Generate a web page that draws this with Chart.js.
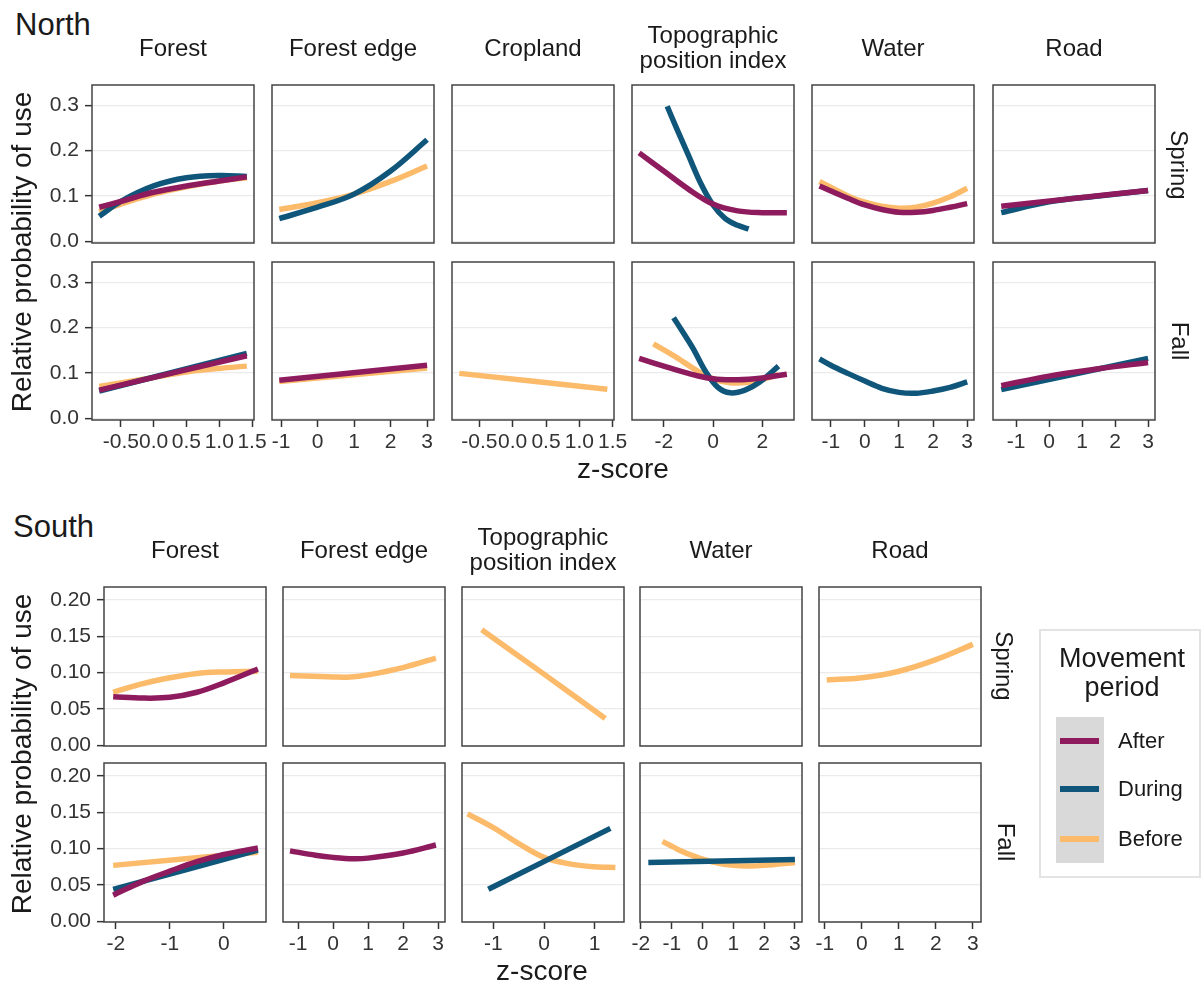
<!DOCTYPE html>
<html>
<head>
<meta charset="utf-8">
<script src="https://cdn.jsdelivr.net/npm/chart.js@4"></script>
<style>
  body { margin: 0; background: #fff; font-family: "Liberation Sans", Arial, sans-serif; color: #1a1a1a; }
  #page { position: relative; width: 1204px; height: 986px; overflow: hidden; background: #fff; }
  #page canvas { position: absolute; }
  .txt { position: absolute; white-space: nowrap; }
  .strip { position: absolute; display: flex; align-items: center; justify-content: center; text-align: center; white-space: pre-line; font-size: 24px; line-height: 25px; }
</style>
</head>
<body>
<div id="page"></div>
<script>
// periods (legend order) and colours
const periods = ["After", "During", "Before"];
const periodColors = ["#8e1b5d", "#0f567a", "#fbbb6a"];

// y ticks
const northYTicks = [0, 0.1, 0.2, 0.3];
const northYLabels = ["0.0", "0.1", "0.2", "0.3"];
const southYTicks = [0, 0.05, 0.1, 0.15, 0.2];
const southYLabels = ["0.00", "0.05", "0.10", "0.15", "0.20"];

// x ticks
const ticksHalf = [-0.5, 0, 0.5, 1, 1.5];
const labelsHalf = ["-0.5", "0.0", "0.5", "1.0", "1.5"];
const ticksM1To3 = [-1, 0, 1, 2, 3];
const ticksTpiNorth = [-2, 0, 2];
const ticksForestSouth = [-2, -1, 0];
const ticksTpiSouth = [-1, 0, 1];
const ticksWaterSouth = [-2, -1, 0, 1, 2, 3];

// facet titles
const northFacets = ["Forest", "Forest edge", "Cropland", "Topographic\nposition index", "Water", "Road"];
const southFacets = ["Forest", "Forest edge", "Topographic\nposition index", "Water", "Road"];
const seasons = ["Spring", "Fall"];

// ---- North, Spring  [z-score, relative probability]
const nSprForestAfter = [[-0.83, 0.075], [-0.5, 0.088], [0, 0.108], [0.5, 0.122], [1, 0.133], [1.42, 0.142]];
const nSprForestDuring = [[-0.83, 0.055], [-0.5, 0.088], [0, 0.122], [0.5, 0.14], [1, 0.145], [1.42, 0.143]];
const nSprForestBefore = [[-0.83, 0.065], [-0.5, 0.082], [0, 0.104], [0.5, 0.12], [1, 0.133], [1.42, 0.14]];
const nSprEdgeDuring = [[-1.05, 0.05], [0, 0.075], [1, 0.104], [2, 0.155], [3, 0.224]];
const nSprEdgeBefore = [[-1.05, 0.07], [0, 0.085], [1, 0.104], [2, 0.132], [3, 0.166]];
const nSprTpiAfter = [[-3, 0.195], [-2, 0.155], [-1, 0.115], [0, 0.082], [1, 0.067], [2, 0.063], [3, 0.063]];
const nSprTpiDuring = [[-1.86, 0.298], [-1.5, 0.252], [-1, 0.19], [-0.5, 0.128], [0, 0.08], [0.5, 0.05], [1, 0.035], [1.45, 0.027]];
const nSprWaterAfter = [[-1.33, 0.122], [-0.5, 0.095], [0, 0.08], [0.5, 0.07], [1, 0.064], [1.5, 0.064], [2, 0.068], [2.5, 0.075], [3, 0.083]];
const nSprWaterBefore = [[-1.33, 0.132], [-0.5, 0.1], [0, 0.086], [0.5, 0.077], [1, 0.073], [1.5, 0.075], [2, 0.084], [2.5, 0.098], [3, 0.117]];
const nSprRoadAfter = [[-1.45, 0.077], [0.8, 0.095], [3, 0.112]];
const nSprRoadDuring = [[-1.45, 0.063], [0, 0.087], [1.5, 0.1], [3, 0.112]];

// ---- North, Fall
const nFallForestAfter = [[-0.83, 0.062], [1.42, 0.138]];
const nFallForestDuring = [[-0.83, 0.06], [1.42, 0.143]];
const nFallForestBefore = [[-0.83, 0.07], [0, 0.09], [0.5, 0.102], [1, 0.11], [1.42, 0.115]];
const nFallEdgeAfter = [[-1.05, 0.084], [3, 0.117]];
const nFallEdgeBefore = [[-1.05, 0.081], [3, 0.111]];
const nFallCropBefore = [[-0.8, 0.099], [1.42, 0.064]];
const nFallTpiAfter = [[-3, 0.132], [-2, 0.115], [-1, 0.099], [0, 0.087], [1, 0.085], [2, 0.089], [3, 0.097]];
const nFallTpiDuring = [[-1.6, 0.222], [-1.2, 0.188], [-0.8, 0.153], [-0.3, 0.103], [0.2, 0.068], [0.7, 0.056], [1.3, 0.062], [1.9, 0.08], [2.66, 0.115]];
const nFallTpiBefore = [[-2.42, 0.164], [-1.6, 0.138], [-0.8, 0.11], [-0.27, 0.093], [0.3, 0.082], [0.8, 0.078], [1.5, 0.08], [2.1, 0.087], [2.66, 0.096]];
const nFallWaterDuring = [[-1.33, 0.131], [-1, 0.117], [-0.5, 0.099], [0, 0.082], [0.5, 0.066], [1, 0.057], [1.5, 0.055], [2, 0.06], [2.5, 0.068], [3, 0.08]];
const nFallRoadAfter = [[-1.45, 0.072], [0, 0.093], [1.5, 0.109], [3, 0.123]];
const nFallRoadDuring = [[-1.45, 0.063], [3, 0.132]];

// ---- South, Spring
const sSprForestAfter = [[-2.05, 0.067], [-1.5, 0.065], [-1, 0.066], [-0.5, 0.073], [0, 0.086], [0.63, 0.105]];
const sSprForestBefore = [[-2.05, 0.073], [-1.5, 0.085], [-1, 0.093], [-0.5, 0.099], [0, 0.101], [0.63, 0.102]];
const sSprEdgeBefore = [[-1.23, 0.096], [0, 0.094], [0.5, 0.094], [1, 0.097], [2, 0.107], [2.94, 0.12]];
const sSprTpiBefore = [[-1.23, 0.159], [0, 0.098], [1.21, 0.037]];
const sSprRoadBefore = [[-0.95, 0.09], [0, 0.093], [1, 0.102], [2, 0.118], [3, 0.139]];

// ---- South, Fall
const sFallForestAfter = [[-2.05, 0.036], [-1.5, 0.055], [-1, 0.069], [-0.5, 0.082], [0, 0.092], [0.63, 0.101]];
const sFallForestDuring = [[-2.05, 0.044], [0.63, 0.098]];
const sFallForestBefore = [[-2.05, 0.077], [0.63, 0.095]];
const sFallEdgeAfter = [[-1.23, 0.097], [-0.5, 0.091], [0, 0.088], [0.6, 0.086], [1, 0.087], [2, 0.094], [2.94, 0.105]];
const sFallTpiDuring = [[-1.1, 0.044], [1.31, 0.128]];
const sFallTpiBefore = [[-1.51, 0.148], [-1, 0.129], [-0.5, 0.107], [0, 0.088], [0.5, 0.079], [1, 0.075], [1.41, 0.074]];
const sFallWaterDuring = [[-1.76, 0.081], [3, 0.085]];
const sFallWaterBefore = [[-1.3, 0.11], [-0.8, 0.099], [-0.3, 0.09], [0.3, 0.082], [1, 0.077], [1.5, 0.076], [2, 0.077], [3, 0.081]];

const page = document.getElementById("page");
Chart.defaults.font.family = '"Liberation Sans", Arial, sans-serif';

// extra transparent room round each canvas so edge tick labels are not cut
const MARGIN = 18;

const panelBox = {
  id: "panelBox",
  afterDraw(chart) {
    const { ctx, chartArea: a } = chart;
    ctx.save();
    ctx.strokeStyle = "#444";
    ctx.lineWidth = 1.5;
    ctx.strokeRect(a.left, a.top, a.right - a.left, a.bottom - a.top);
    ctx.restore();
  },
};

const northBlock = {
  lefts: [92, 272, 452, 632, 812, 993],
  width: 162,
  rows: [{ top: 85, height: 158 }, { top: 262, height: 158 }],
  yMin: -0.004, yMax: 0.345, yTicks: northYTicks, yLabels: northYLabels, yPad: 80,
  xAxes: [
    { min: -0.94, max: 1.53, ticks: ticksHalf, labels: labelsHalf },
    { min: -1.25, max: 3.19, ticks: ticksM1To3 },
    { min: -0.91, max: 1.52, ticks: ticksHalf, labels: labelsHalf },
    { min: -3.29, max: 3.29, ticks: ticksTpiNorth },
    { min: -1.55, max: 3.2, ticks: ticksM1To3 },
    { min: -1.7, max: 3.21, ticks: ticksM1To3 },
  ],
  series: [
    [
      [nSprForestAfter, nSprForestDuring, nSprForestBefore],
      [null, nSprEdgeDuring, nSprEdgeBefore],
      [null, null, null],
      [nSprTpiAfter, nSprTpiDuring, null],
      [nSprWaterAfter, null, nSprWaterBefore],
      [nSprRoadAfter, nSprRoadDuring, null],
    ],
    [
      [nFallForestAfter, nFallForestDuring, nFallForestBefore],
      [nFallEdgeAfter, null, nFallEdgeBefore],
      [null, null, nFallCropBefore],
      [nFallTpiAfter, nFallTpiDuring, nFallTpiBefore],
      [null, nFallWaterDuring, null],
      [nFallRoadAfter, nFallRoadDuring, null],
    ],
  ],
};

const southBlock = {
  lefts: [104, 283, 462, 640, 819],
  width: 162,
  rows: [{ top: 587, height: 159 }, { top: 763, height: 159 }],
  yMin: -0.001, yMax: 0.218, yTicks: southYTicks, yLabels: southYLabels, yPad: 92,
  xAxes: [
    { min: -2.22, max: 0.78, ticks: ticksForestSouth },
    { min: -1.43, max: 3.2, ticks: ticksM1To3 },
    { min: -1.62, max: 1.58, ticks: ticksTpiSouth },
    { min: -2.03, max: 3.23, ticks: ticksWaterSouth },
    { min: -1.16, max: 3.22, ticks: ticksM1To3 },
  ],
  series: [
    [
      [sSprForestAfter, null, sSprForestBefore],
      [null, null, sSprEdgeBefore],
      [null, null, sSprTpiBefore],
      [null, null, null],
      [null, null, sSprRoadBefore],
    ],
    [
      [sFallForestAfter, sFallForestDuring, sFallForestBefore],
      [sFallEdgeAfter, null, null],
      [null, sFallTpiDuring, sFallTpiBefore],
      [null, sFallWaterDuring, sFallWaterBefore],
      [null, null, null],
    ],
  ],
};

drawBlock(northBlock);
drawBlock(southBlock);
drawTexts();
drawLegend();

function drawBlock(block) {
  block.rows.forEach((row, r) => {
    block.lefts.forEach((left, c) => {
      makePanel({
        left, top: row.top, width: block.width, height: row.height,
        xAxis: block.xAxes[c], block, series: block.series[r][c],
        showX: r === block.rows.length - 1, showY: c === 0,
      });
    });
  });
}

// the scale sizes are forced so that every chart area lands exactly on its panel
function pinScale(s, size) {
  if (s.isHorizontal()) s.height = size;
  else s.width = size;
  s.paddingLeft = 0;
  s.paddingRight = 0;
  s.paddingTop = 0;
  s.paddingBottom = 0;
}

function makePanel(p) {
  const padL = p.showY ? p.block.yPad : 0;
  const padB = p.showX ? 42 : 0;
  const w = p.width + padL + 2 * MARGIN;
  const h = p.height + padB + 2 * MARGIN;
  const cv = document.createElement("canvas");
  cv.width = w;
  cv.height = h;
  cv.style.width = w + "px";
  cv.style.height = h + "px";
  cv.style.left = p.left - padL - MARGIN + "px";
  cv.style.top = p.top - MARGIN + "px";
  page.appendChild(cv);

  const datasets = [];
  p.series.forEach((pts, i) => {
    if (!pts) return;
    datasets.push({
      label: periods[i],
      data: pts.map(([x, y]) => ({ x, y })),
      borderColor: periodColors[i],
      order: i,
    });
  });

  const xLabels = p.xAxis.labels || p.xAxis.ticks.map(String);
  const yLabels = p.block.yLabels;

  new Chart(cv, {
    type: "line",
    data: { datasets },
    options: {
      responsive: false,
      animation: false,
      layout: { padding: MARGIN },
      plugins: { legend: { display: false }, tooltip: { enabled: false } },
      elements: {
        point: { radius: 0 },
        line: { borderWidth: 5.5, borderCapStyle: "butt", tension: 0.35, fill: false },
      },
      scales: {
        x: {
          type: "linear",
          min: p.xAxis.min,
          max: p.xAxis.max,
          afterBuildTicks: (s) => { s.ticks = p.xAxis.ticks.map((v) => ({ value: v })); },
          afterFit: (s) => pinScale(s, padB),
          border: { display: false },
          grid: { display: p.showX, drawOnChartArea: false, drawTicks: p.showX, tickLength: 7, tickColor: "#333", tickWidth: 1.5 },
          ticks: { display: p.showX, autoSkip: false, maxRotation: 0, padding: 3, color: "#333", font: { size: 21 }, callback: (v, i) => xLabels[i] },
        },
        y: {
          type: "linear",
          min: p.block.yMin,
          max: p.block.yMax,
          afterBuildTicks: (s) => { s.ticks = p.block.yTicks.map((v) => ({ value: v })); },
          afterFit: (s) => pinScale(s, padL),
          border: { display: false },
          grid: { color: "#ebebeb", lineWidth: 1.3, drawTicks: p.showY, tickLength: 7, tickColor: "#333", tickWidth: 1.5 },
          ticks: { display: p.showY, autoSkip: false, padding: 6, color: "#333", font: { size: 21 }, callback: (v, i) => yLabels[i] },
        },
      },
    },
    plugins: [panelBox],
  });
}

function addText(str, x, baseline, size, align) {
  const d = document.createElement("div");
  d.className = "txt";
  d.textContent = str;
  d.style.fontSize = size + "px";
  d.style.lineHeight = size + "px";
  d.style.top = baseline - 0.8465 * size + "px";
  d.style.left = x + "px";
  if (align === "center") d.style.transform = "translateX(-50%)";
  page.appendChild(d);
  return d;
}

function addRotated(str, cx, cy, size, deg) {
  const d = document.createElement("div");
  d.className = "txt";
  d.textContent = str;
  d.style.fontSize = size + "px";
  d.style.lineHeight = size + "px";
  d.style.left = cx + "px";
  d.style.top = cy + "px";
  d.style.transform = `translate(-50%, -50%) rotate(${deg}deg)`;
  page.appendChild(d);
}

function addStrips(titles, lefts, width, center) {
  titles.forEach((t, i) => {
    const d = document.createElement("div");
    d.className = "strip";
    d.textContent = t;
    d.style.left = lefts[i] + "px";
    d.style.width = width + "px";
    d.style.top = center - 30 + "px";
    d.style.height = "60px";
    page.appendChild(d);
  });
}

function drawTexts() {
  addText("North", 15, 35, 31);
  addText("South", 13, 537, 31);
  addStrips(northFacets, northBlock.lefts, northBlock.width, 47);
  addStrips(southFacets, southBlock.lefts, southBlock.width, 549);

  addRotated("Relative probability of use", 22, 252, 28, -90);
  addRotated("Relative probability of use", 22, 754, 28, -90);
  addText("z-score", 623, 479, 28, "center");
  addText("z-score", 542, 981, 28, "center");

  addRotated(seasons[0], 1179, 165, 24, 90);
  addRotated(seasons[1], 1180, 341, 24, 90);
  addRotated(seasons[0], 1004, 666, 24, 90);
  addRotated(seasons[1], 1006, 842, 24, 90);
}

function drawLegend() {
  const box = document.createElement("div");
  box.style.cssText = "position:absolute;left:1039px;top:629px;width:158px;height:245px;border:2px solid #e3e3e3;background:#fff;";
  page.appendChild(box);
  addText("Movement", 1122, 668, 27, "center");
  addText("period", 1122, 697, 27, "center");

  const keyBg = document.createElement("div");
  keyBg.style.cssText = "position:absolute;left:1056px;top:717px;width:48px;height:146px;background:#d9d9d9;";
  page.appendChild(keyBg);

  const keyY = [741, 789, 839];
  periods.forEach((name, i) => {
    const ln = document.createElement("div");
    ln.style.cssText = `position:absolute;left:1060px;top:${keyY[i] - 3}px;width:39px;height:6px;background:${periodColors[i]};`;
    page.appendChild(ln);
    addText(name, 1118, keyY[i] + 8, 22);
  });
}
</script>
</body>
</html>
